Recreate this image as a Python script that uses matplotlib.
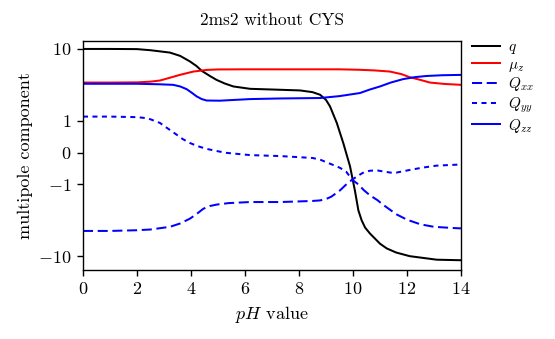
import numpy as np
import matplotlib
matplotlib.use("Agg")
import matplotlib.pyplot as plt

plt.rcParams['font.family'] = 'serif'
plt.rcParams['font.serif'] = ['cmr10', 'DejaVu Serif']
plt.rcParams['mathtext.fontset'] = 'cm'
plt.rcParams['axes.formatter.use_mathtext'] = True

title = "2ms2 without CYS"
xlabel = "$pH$ value"
ylabel = "multipole component"

ph_q = [0, 1, 2, 2.5, 3.22, 3.6, 3.96, 4.2, 4.4, 4.7, 4.95, 5.25, 5.57, 6.19, 7.0, 8.04, 8.5, 8.78, 9.0, 9.15, 9.4, 9.64, 9.89, 10.07, 10.2, 10.32, 10.45, 10.63, 11.0, 11.25, 11.6, 12.1, 13.1, 14]
q = [10, 10, 9.95, 9.6, 8.9, 8.0, 6.7, 5.8, 4.95, 4.2, 3.7, 3.3, 3.0, 2.78, 2.72, 2.64, 2.5, 2.3, 1.95, 1.58, 0.93, 0.3, -0.43, -1.21, -2.3, -3.16, -4.0, -4.84, -6.7, -7.8, -8.9, -10.0, -11.2, -11.4]

ph_mu = [0, 1, 2, 2.5, 2.85, 3.2, 3.59, 4.09, 4.58, 5.0, 6, 8, 9.5, 10.26, 10.8, 11.37, 11.8, 12.1, 12.5, 12.85, 13.4, 14]
mu_z = [3.4, 3.4, 3.42, 3.5, 3.63, 3.95, 4.35, 4.84, 5.1, 5.18, 5.2, 5.2, 5.2, 5.12, 5.02, 4.84, 4.45, 4.04, 3.7, 3.4, 3.25, 3.16]

ph_xx = [0, 1, 2, 2.5, 3.22, 3.6, 3.96, 4.2, 4.46, 4.7, 4.95, 5.4, 6.19, 7.3, 8.5, 8.78, 9.0, 9.2, 9.52, 9.75, 9.97, 10.2, 10.4, 10.63, 10.9, 11.1, 11.6, 12.0, 12.5, 13.0, 13.7, 14]
Q_xx = [-4.45, -4.45, -4.35, -4.25, -3.9, -3.5, -3.0, -2.6, -2.18, -2.0, -1.91, -1.82, -1.76, -1.76, -1.7, -1.67, -1.6, -1.48, -1.21, -1.0, -0.85, -1.0, -1.2, -1.42, -1.65, -1.9, -2.6, -3.1, -3.6, -3.9, -4.05, -4.1]

ph_yy = [0, 1, 2, 2.4, 2.85, 3.15, 3.47, 3.7, 3.96, 4.25, 4.58, 5.0, 5.32, 6.19, 7.3, 8.5, 8.78, 9.0, 9.3, 9.52, 9.75, 9.97, 10.2, 10.4, 10.63, 10.9, 11.1, 11.4, 11.6, 11.9, 12.2, 12.6, 13.1, 13.6, 14]
Q_yy = [1.14, 1.14, 1.12, 1.08, 0.93, 0.75, 0.56, 0.42, 0.30, 0.2, 0.115, 0.04, -0.01, -0.08, -0.11, -0.17, -0.22, -0.3, -0.4, -0.48, -0.6, -0.85, -0.72, -0.62, -0.57, -0.56, -0.59, -0.63, -0.63, -0.58, -0.53, -0.47, -0.41, -0.39, -0.375]

ph_zz = [0, 1, 2, 2.8, 3.34, 3.6, 3.84, 4.05, 4.21, 4.4, 4.58, 5.07, 6.19, 7.3, 8.78, 9.5, 10.26, 10.6, 11.0, 11.4, 11.86, 12.3, 12.73, 13.3, 14]
Q_zz = [3.27, 3.27, 3.27, 3.22, 3.16, 3.0, 2.75, 2.42, 2.18, 2.0, 1.91, 1.9, 2.0, 2.04, 2.07, 2.2, 2.43, 2.7, 3.0, 3.4, 3.8, 4.05, 4.2, 4.3, 4.35]

yticks = [-10, -1, 0, 1, 10]
ytick_labels = ["$-10$", "$-1$", "$0$", "$1$", "$10$"]
xticks = [0, 2, 4, 6, 8, 10, 12, 14]

fig = plt.figure(figsize=(5.55, 3.39), dpi=100)
ax = fig.add_axes([0.1495, 0.2035, 0.6811, 0.6755])

lw = 1.45
ax.plot(ph_q, q, color='black', lw=lw, label='$q$')
ax.plot(ph_mu, mu_z, color='red', lw=lw, label=r'$\mu_z$')
ax.plot(ph_xx, Q_xx, color='blue', lw=lw, linestyle=(0, (5.0, 2.3)), label='$Q_{xx}$')
ax.plot(ph_yy, Q_yy, color='blue', lw=lw, linestyle=(0, (2.5, 2.2)), label='$Q_{yy}$')
ax.plot(ph_zz, Q_zz, color='blue', lw=lw, label='$Q_{zz}$')

ax.set_yscale('symlog', linthresh=1, linscale=0.4)
ax.set_xlim(0, 14)
ax.set_ylim(-15.6, 12.9)
ax.set_yticks(yticks)
ax.set_yticklabels(ytick_labels)
ax.yaxis.set_minor_locator(matplotlib.ticker.NullLocator())
ax.set_xticks(xticks)
ax.set_xticklabels([f"${t}$" for t in xticks])
ax.tick_params(labelsize=13, width=1.0, length=4.5)
for s in ax.spines.values():
    s.set_linewidth(1.0)

ax.set_title(title, fontsize=12.5, pad=11.5)
ax.set_xlabel(xlabel, fontsize=13, labelpad=5)
ax.set_ylabel(ylabel, fontsize=13, labelpad=4)

ax.legend(loc='upper left', bbox_to_anchor=(1.0, 1.05), frameon=False, fontsize=11,
          handlelength=1.85, labelspacing=0.12, borderaxespad=0.3, handletextpad=0.5)

fig.savefig("out.png", dpi=100)
